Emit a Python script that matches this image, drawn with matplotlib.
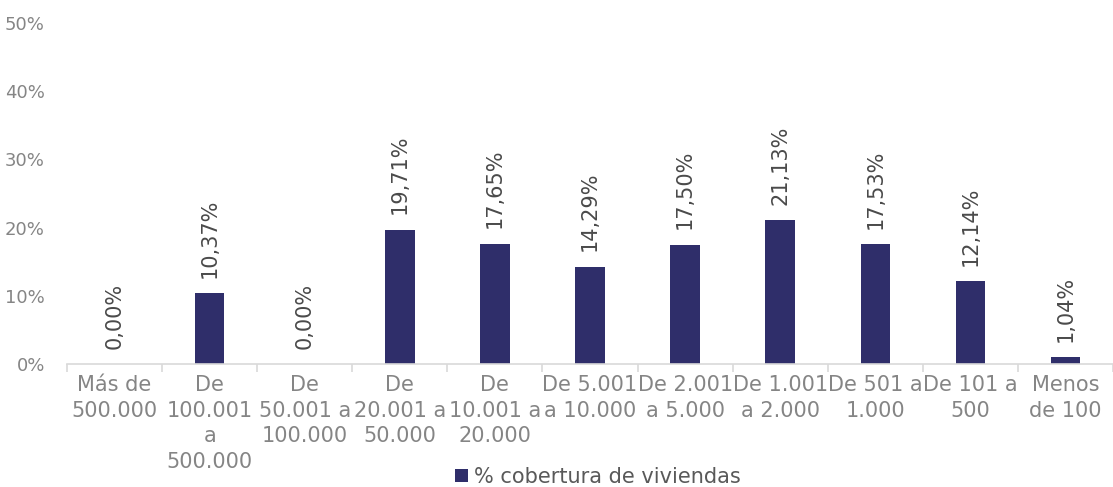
import matplotlib.pyplot as plt
from matplotlib.ticker import FuncFormatter, FixedLocator
import numpy as np

plt.rcParams['font.family'] = ['DejaVu Sans']
plt.rcParams['savefig.bbox'] = 'standard'

categorias = ["Más de\n500.000", "De\n100.001\na\n500.000", "De\n50.001 a\n100.000",
              "De\n20.001 a\n50.000", "De\n10.001 a\n20.000", "De 5.001\na 10.000",
              "De 2.001\na 5.000", "De 1.001\na 2.000", "De 501 a\n1.000",
              "De 101 a\n500", "Menos\nde 100"]
cobertura = [0.00, 10.37, 0.00, 19.71, 17.65, 14.29, 17.50, 21.13, 17.53, 12.14, 1.04]
serie = "% cobertura de viviendas"

color_barra = '#2F2E6A'
gris = '#858585'

fig = plt.figure(figsize=(11.13, 4.87), dpi=100)
ax = fig.add_axes([67/1113, 1-364/487, 1-67/1113, (364-23)/487])

x = np.arange(len(categorias))
barras = ax.bar(x, cobertura, width=0.31, color=color_barra, label=serie, zorder=2)

for xi, v in zip(x, cobertura):
    ax.annotate(f"{v:.2f}%".replace(".", ","), (xi, v), xytext=(0, 11),
                textcoords='offset points', rotation=90, ha='center', va='bottom',
                fontsize=15, color='#4A4A4A')

ax.set_xlim(-0.5, len(categorias)-0.5)
ax.set_ylim(0, 50)
ax.yaxis.set_major_locator(FixedLocator([0, 10, 20, 30, 40, 50]))
ax.yaxis.set_major_formatter(FuncFormatter(lambda v, p: f"{v:.0f}%"))
ax.tick_params(axis='y', length=0, labelsize=13, labelcolor=gris, pad=16)

ax.set_xticks(x)
ax.set_xticklabels(categorias, fontsize=15, color=gris, linespacing=1.35)
ax.tick_params(axis='x', length=0, pad=8)
ax.set_xticks(np.arange(len(categorias)+1)-0.5, minor=True)
ax.tick_params(axis='x', which='minor', length=6, color='#D9D9D9', width=1.2)

for s in ['top', 'right', 'left']:
    ax.spines[s].set_visible(False)
ax.spines['bottom'].set_color('#D9D9D9')
ax.spines['bottom'].set_linewidth(1.2)

fig.legend(handles=[barras], labels=[serie], loc='lower center',
           bbox_to_anchor=(598/1113, 0), borderaxespad=0, borderpad=0,
           frameon=False, fontsize=15, labelcolor='#595959', handlelength=0.6, handleheight=0.6,
           handletextpad=0.3)

fig.savefig("out.png", dpi=100)
